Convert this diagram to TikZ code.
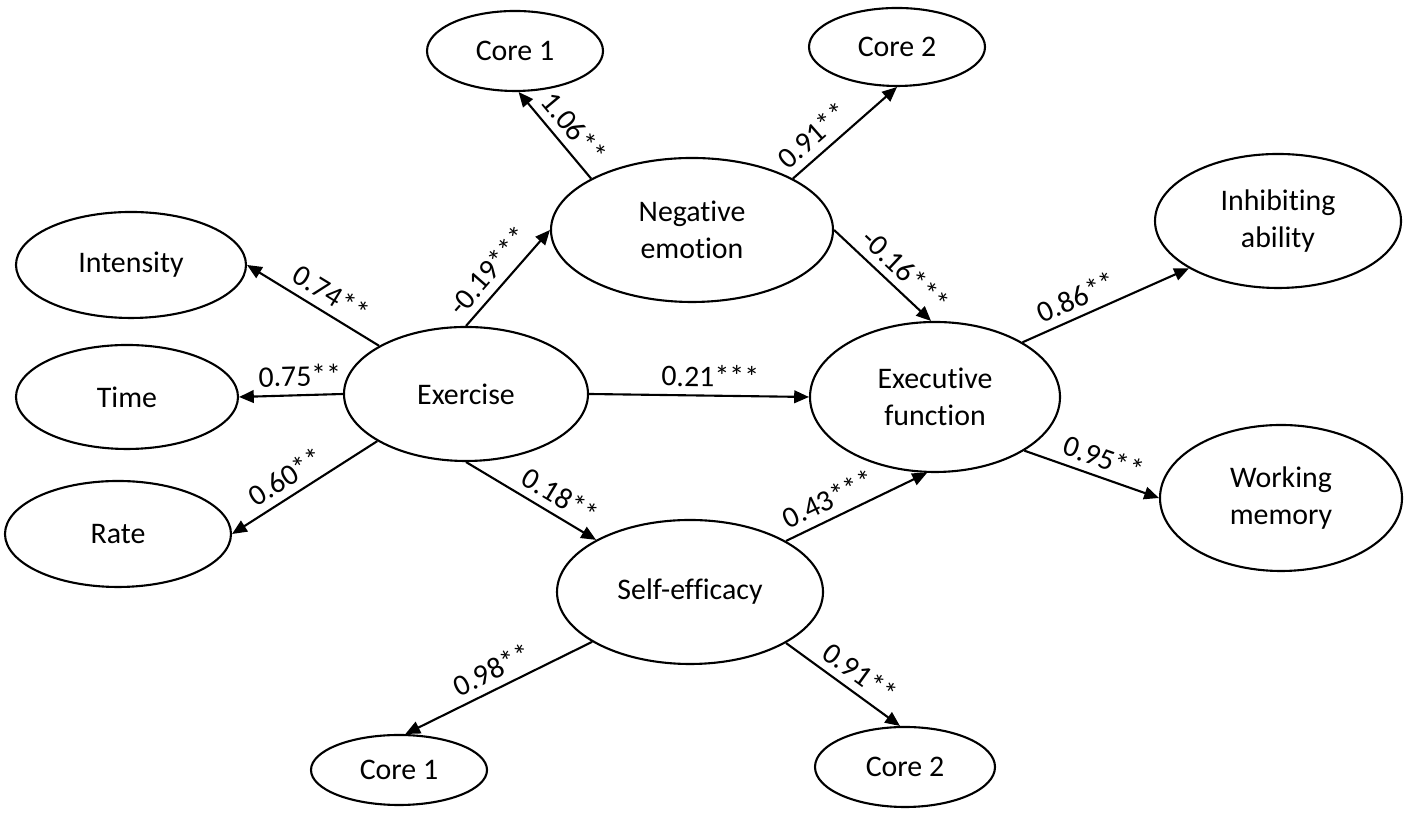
\documentclass[tikz,border=0pt]{standalone}
\usepackage{fontspec}
\setmainfont[Ligatures=NoCommon]{Carlito}
\usepackage{tikz}
\usetikzlibrary{shapes.geometric,arrows.meta}

\begin{document}
\begin{tikzpicture}[
    construct/.style={draw, ellipse, line width=0.6pt, inner sep=0pt, align=center, font=\fontsize{8.5}{10.5}\selectfont},
    link/.style={-{Triangle[length=4.2pt,width=3.6pt]}, line width=0.6pt},
    coef/.style={sloped, above, inner sep=2.2pt, font=\fontsize{8.5}{10.5}\selectfont}
]
    \useasboundingbox (0,0) rectangle (14.18,8.15);

    % Constructs
    \node[construct, minimum width=2.44cm, minimum height=1.34cm] (exercise) at (4.66,4.21) {Exercise};
    \node[construct, minimum width=2.82cm, minimum height=1.44cm] (negemo) at (6.92,5.85) {Negative\\emotion};
    \node[construct, minimum width=2.66cm, minimum height=1.44cm] (selfeff) at (6.90,2.23) {Self-efficacy};
    \node[construct, minimum width=2.50cm, minimum height=1.50cm] (exec) at (9.35,4.18) {Executive\\function};

    % Indicators
    \node[construct, minimum width=2.30cm, minimum height=1.06cm] (intensity) at (1.31,5.50) {Intensity};
    \node[construct, minimum width=2.22cm, minimum height=1.04cm] (time) at (1.27,4.18) {Time};
    \node[construct, minimum width=2.26cm, minimum height=1.06cm] (rate) at (1.18,2.81) {Rate};
    \node[construct, minimum width=1.76cm, minimum height=0.80cm] (core1top) at (5.15,7.64) {Core 1};
    \node[construct, minimum width=1.76cm, minimum height=0.78cm] (core2top) at (8.97,7.68) {Core 2};
    \node[construct, minimum width=1.76cm, minimum height=0.70cm] (core1bot) at (3.99,0.45) {Core 1};
    \node[construct, minimum width=1.80cm, minimum height=0.80cm] (core2bot) at (9.05,0.48) {Core 2};
    \node[construct, minimum width=2.46cm, minimum height=1.34cm] (inhib) at (12.78,5.94) {Inhibiting\\ability};
    \node[construct, minimum width=2.42cm, minimum height=1.46cm] (workmem) at (12.81,3.17) {Working\\memory};

    % Loadings
    \draw[link] (exercise.151) -- node[coef, pos=0.44] {0.74**} (intensity.east);
    \draw[link] (exercise.west) -- node[coef, pos=0.41] {0.75**} (time.east);
    \draw[link] (exercise.208) -- node[coef, pos=0.56] {0.60**} (rate.east);
    \draw[link] (negemo.153) -- node[coef, pos=0.44] {1.06**} (core1top.275);
    \draw[link] (negemo.27) -- node[coef, pos=0.31] {0.91**} (core2top.270);
    \draw[link] (selfeff.207) -- node[coef, pos=0.49] {0.98**} (core1bot.80);
    \draw[link] (selfeff.332) -- node[coef, pos=0.55] {0.91**} (core2bot.97);
    \draw[link] (exec.32) -- node[coef, pos=0.37] {0.86**} (inhib.208);
    \draw[link] (exec.329) -- node[coef, pos=0.54] {0.95**} (workmem.west);

    % Paths
    \draw[link] (exercise.north) -- node[coef, pos=0.44] {-0.19***} (negemo.west);
    \draw[link] (exercise.south) -- node[coef, pos=0.65] {0.18**} (selfeff.151);
    \draw[link] (exercise.east) -- node[coef, pos=0.55] {0.21***} (exec.west);
    \draw[link] (negemo.east) -- node[coef, pos=0.6] {-0.16***} (exec.93);
    \draw[link] (selfeff.28) -- node[coef, pos=0.36] {0.43***} (exec.264);
\end{tikzpicture}
\end{document}
